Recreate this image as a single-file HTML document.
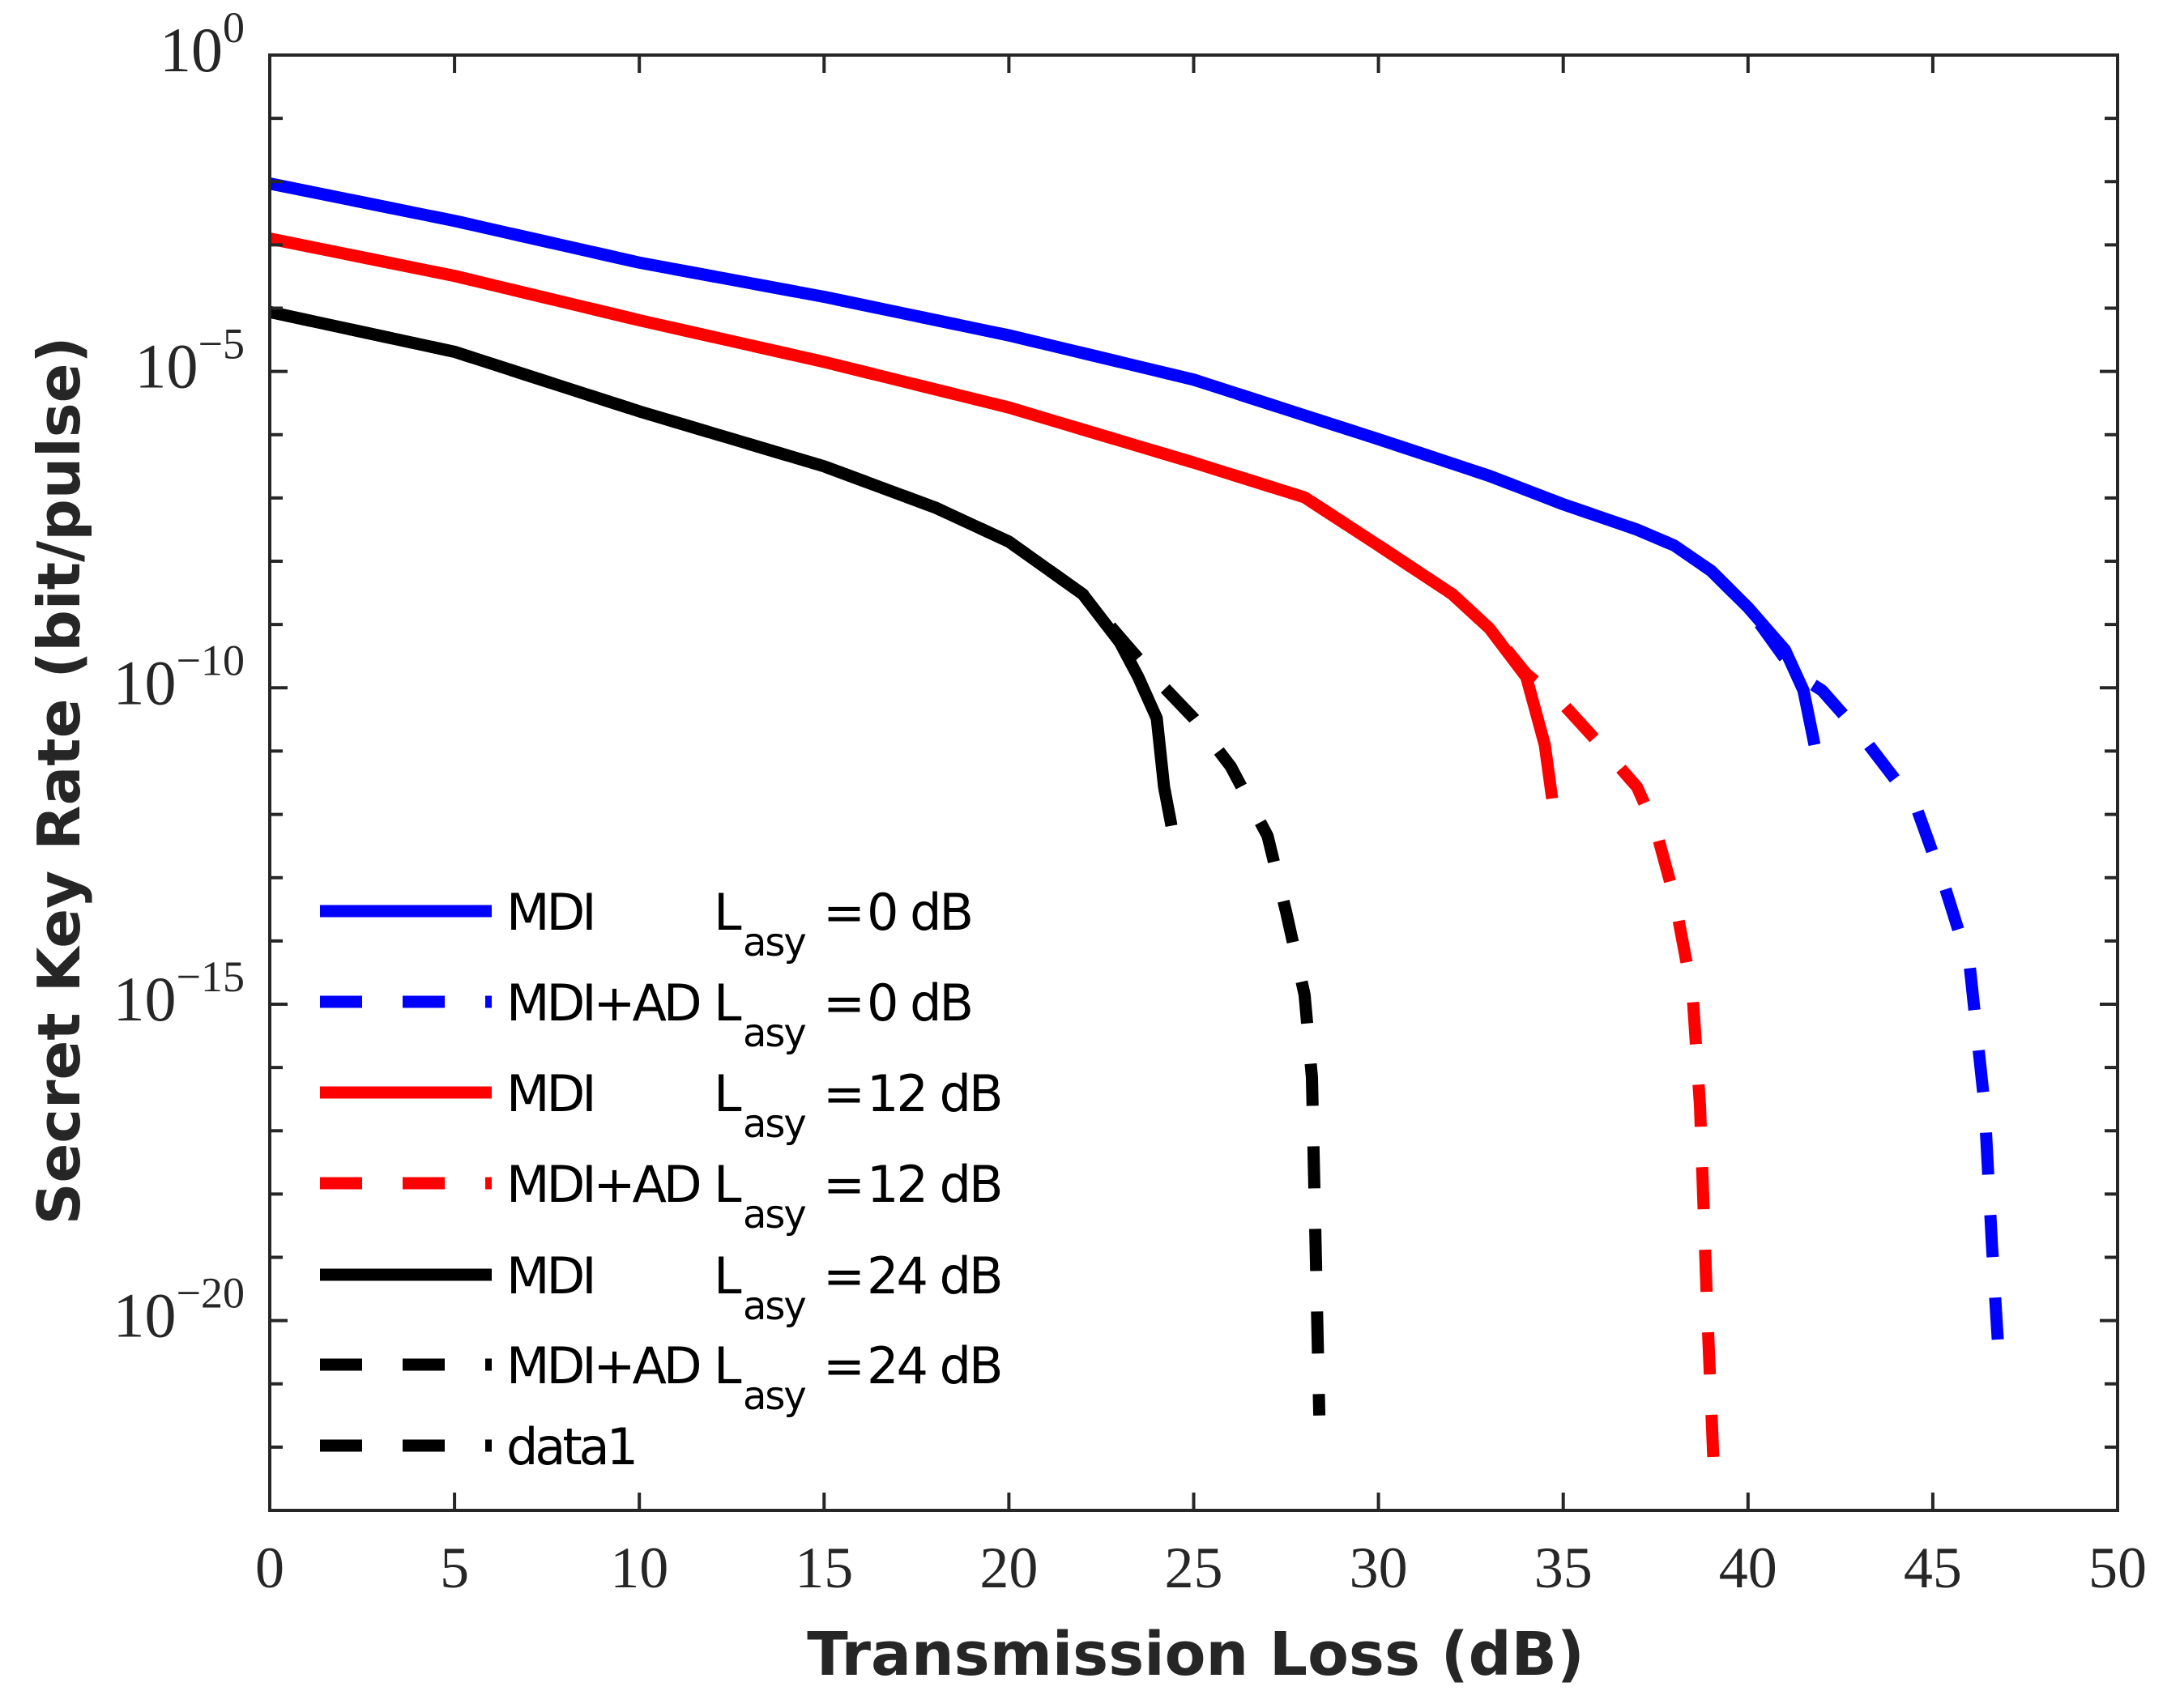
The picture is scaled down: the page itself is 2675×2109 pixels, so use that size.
<!DOCTYPE html>
<html><head><meta charset="utf-8"><style>
html,body{margin:0;padding:0;background:#fff}
svg{display:block}
</style></head><body>
<svg id="chart" width="2675" height="2109" viewBox="0 0 2675 2109" xmlns="http://www.w3.org/2000/svg">
<rect x="0" y="0" width="2675" height="2109" fill="#fff"/>
<g id="plot"></g>
<g id="axes"></g>
<g id="legend"></g>
<text x="1476" y="2068" text-anchor="middle" font-family="'DejaVu Sans',sans-serif" font-weight="bold" font-size="74" fill="#262626">Transmission Loss (dB)</text>
<text transform="translate(98,964) rotate(-90)" text-anchor="middle" font-family="'DejaVu Sans',sans-serif" font-weight="bold" font-size="72" fill="#262626">Secret Key Rate (bit/pulse)</text>
</svg>
<script>
const xTicks=[0,5,10,15,20,25,30,35,40,45,50];
const yLabelExps=[0,-5,-10,-15,-20];
// log10 values of key rate
const blueSolidX=[0,5,10,15,20,25,30,33,35,37,38,39,40,41,41.5,41.8];
const blueSolidY=[-2.03,-2.62,-3.28,-3.82,-4.43,-5.13,-6.07,-6.65,-7.1,-7.5,-7.75,-8.15,-8.73,-9.4,-10.04,-10.9];
const blueDashX=[0,5,10,15,20,25,30,33,35,37,38,39,40,41.3,42,43,44,44.5,45.3,46,46.4,46.6,46.8];
const blueDashY=[-2.03,-2.62,-3.28,-3.82,-4.43,-5.13,-6.07,-6.65,-7.1,-7.5,-7.75,-8.15,-8.73,-9.78,-10.04,-10.7,-11.46,-11.8,-13.1,-14.4,-16.6,-18.8,-20.7];
const redSolidX=[0,5,10,15,20,25,28,30,32,33,34,34.5,34.7];
const redSolidY=[-2.9,-3.49,-4.19,-4.85,-5.57,-6.44,-6.99,-7.75,-8.52,-9.06,-9.83,-10.9,-11.75];
const redDashX=[0,5,10,15,20,25,28,30,32,33,34,35,36,37,37.5,38,38.5,38.7,38.9,39.1];
const redDashY=[-2.9,-3.49,-4.19,-4.85,-5.57,-6.44,-6.99,-7.75,-8.52,-9.06,-9.78,-10.26,-10.9,-11.57,-12.23,-13.3,-14.85,-16.6,-19.9,-22.7];
const blackSolidX=[0,5,10,15,18,20,22,23,23.5,24,24.2,24.4];
const blackSolidY=[-4.06,-4.69,-5.63,-6.5,-7.15,-7.69,-8.52,-9.28,-9.83,-10.48,-11.57,-12.18];
const blackDashX=[0,5,10,15,18,20,22,23.3,24,25,26,27,27.5,28,28.2,28.3,28.4];
const blackDashY=[-4.06,-4.69,-5.63,-6.5,-7.15,-7.69,-8.52,-9.4,-9.87,-10.48,-11.24,-12.34,-13.54,-14.85,-16.16,-18.8,-21.5];

const L=333,R=2614,T=68,B=1865,YMIN=-23,YMAX=0,XMIN=0,XMAX=50;
const NS='http://www.w3.org/2000/svg';
function sx(v){return L+(v-XMIN)/(XMAX-XMIN)*(R-L);}
function sy(v){return T+(YMAX-v)/(YMAX-YMIN)*(B-T);}
function mk(tag,attrs,parent){const e=document.createElementNS(NS,tag);for(const k in attrs)e.setAttribute(k,attrs[k]);parent.appendChild(e);return e;}
const plot=document.getElementById('plot'),axes=document.getElementById('axes'),leg=document.getElementById('legend');

const series=[
 [blueSolidX,blueSolidY,'#0000ff',false,'series-mdi-0db'],
 [blueDashX,blueDashY,'#0000ff',true,'series-mdi-ad-0db'],
 [redSolidX,redSolidY,'#ff0000',false,'series-mdi-12db'],
 [redDashX,redDashY,'#ff0000',true,'series-mdi-ad-12db'],
 [blackSolidX,blackSolidY,'#000000',false,'series-mdi-24db'],
 [blackDashX,blackDashY,'#000000',true,'series-mdi-ad-24db']
];
series.forEach(s=>{
 const d=s[0].map((x,i)=>(i?'L':'M')+sx(x).toFixed(1)+' '+sy(s[1][i]).toFixed(1)).join(' ');
 const p=mk('path',{d:d,fill:'none',stroke:s[2],'stroke-width':15,'stroke-linejoin':'round'},plot);
 if(s[3])p.setAttribute('stroke-dasharray','52 50');
 
 
});

const fr=mk('rect',{x:L,y:T,width:R-L,height:B-T,fill:'none',stroke:'#262626','stroke-width':4},axes);


xTicks.forEach(t=>{
 const x=sx(t);
 const tk=mk('path',{d:`M${x} ${B}V${B-22}M${x} ${T}V${T+22}`,stroke:'#262626','stroke-width':4},axes);
 
 
 const lb=mk('text',{x:x,y:1960,'text-anchor':'middle','font-family':"'Liberation Serif',serif",'font-size':72,fill:'#262626'},axes);
 lb.textContent=t;
 
 
});
for(let e=YMIN;e<=YMAX;e++){
 const y=sy(e);
 const len=(e%5===0)?22:16;
 const tk=mk('path',{d:`M${L} ${y}H${L+len}M${R} ${y}H${R-len}`,stroke:'#262626','stroke-width':4},axes);
 
 
}
yLabelExps.forEach(e=>{
 const y=sy(e);
 const g=mk('text',{x:302,y:y+20,'text-anchor':'end','font-family':"'Liberation Serif',serif",'font-size':78,fill:'#262626'},axes);
 
 
 const a=mk('tspan',{},g);a.textContent='10';
 const b=mk('tspan',{dy:-36,'font-size':54},g);b.textContent=(e===0?'0':'\u2212'+(-e));
});

const legItems=[
 ['#0000ff',false,'MDI','0 dB'],['#0000ff',true,'MDI+AD','0 dB'],
 ['#ff0000',false,'MDI','12 dB'],['#ff0000',true,'MDI+AD','12 dB'],
 ['#000000',false,'MDI','24 dB'],['#000000',true,'MDI+AD','24 dB'],
 ['#000000',true,'data1',null]];
const rowY=[1125,1237,1349,1461,1574,1685,1785];
legItems.forEach((it,i)=>{
 const y=rowY[i];
 const g=mk('g',{},leg);
 
 
 const ln=mk('line',{x1:395,x2:607,y1:y,y2:y,stroke:it[0],'stroke-width':15},g);
 if(it[1])ln.setAttribute('stroke-dasharray','52 50');
 const f="'DejaVu Sans',sans-serif";
 const t1=mk('text',{x:625,y:y+23,'font-family':f,'font-size':62,'letter-spacing':-4,fill:'#000'},g);t1.textContent=it[2];
 if(it[3]){
  const t2=mk('text',{x:881,y:y+23,'font-family':f,'font-size':62,fill:'#000'},g);t2.textContent='L';
  const t3=mk('text',{x:917,y:y+55,'font-family':f,'font-size':48,'letter-spacing':-2,fill:'#000'},g);t3.textContent='asy';
  const t4=mk('text',{x:1016,y:y+23,'font-family':f,'font-size':62,fill:'#000'},g);t4.textContent='=';
  const t5=mk('text',{x:1070,y:y+23,'font-family':f,'font-size':62,'letter-spacing':-3,fill:'#000'},g);t5.textContent=it[3];
 }
});
</script>
</body></html>
